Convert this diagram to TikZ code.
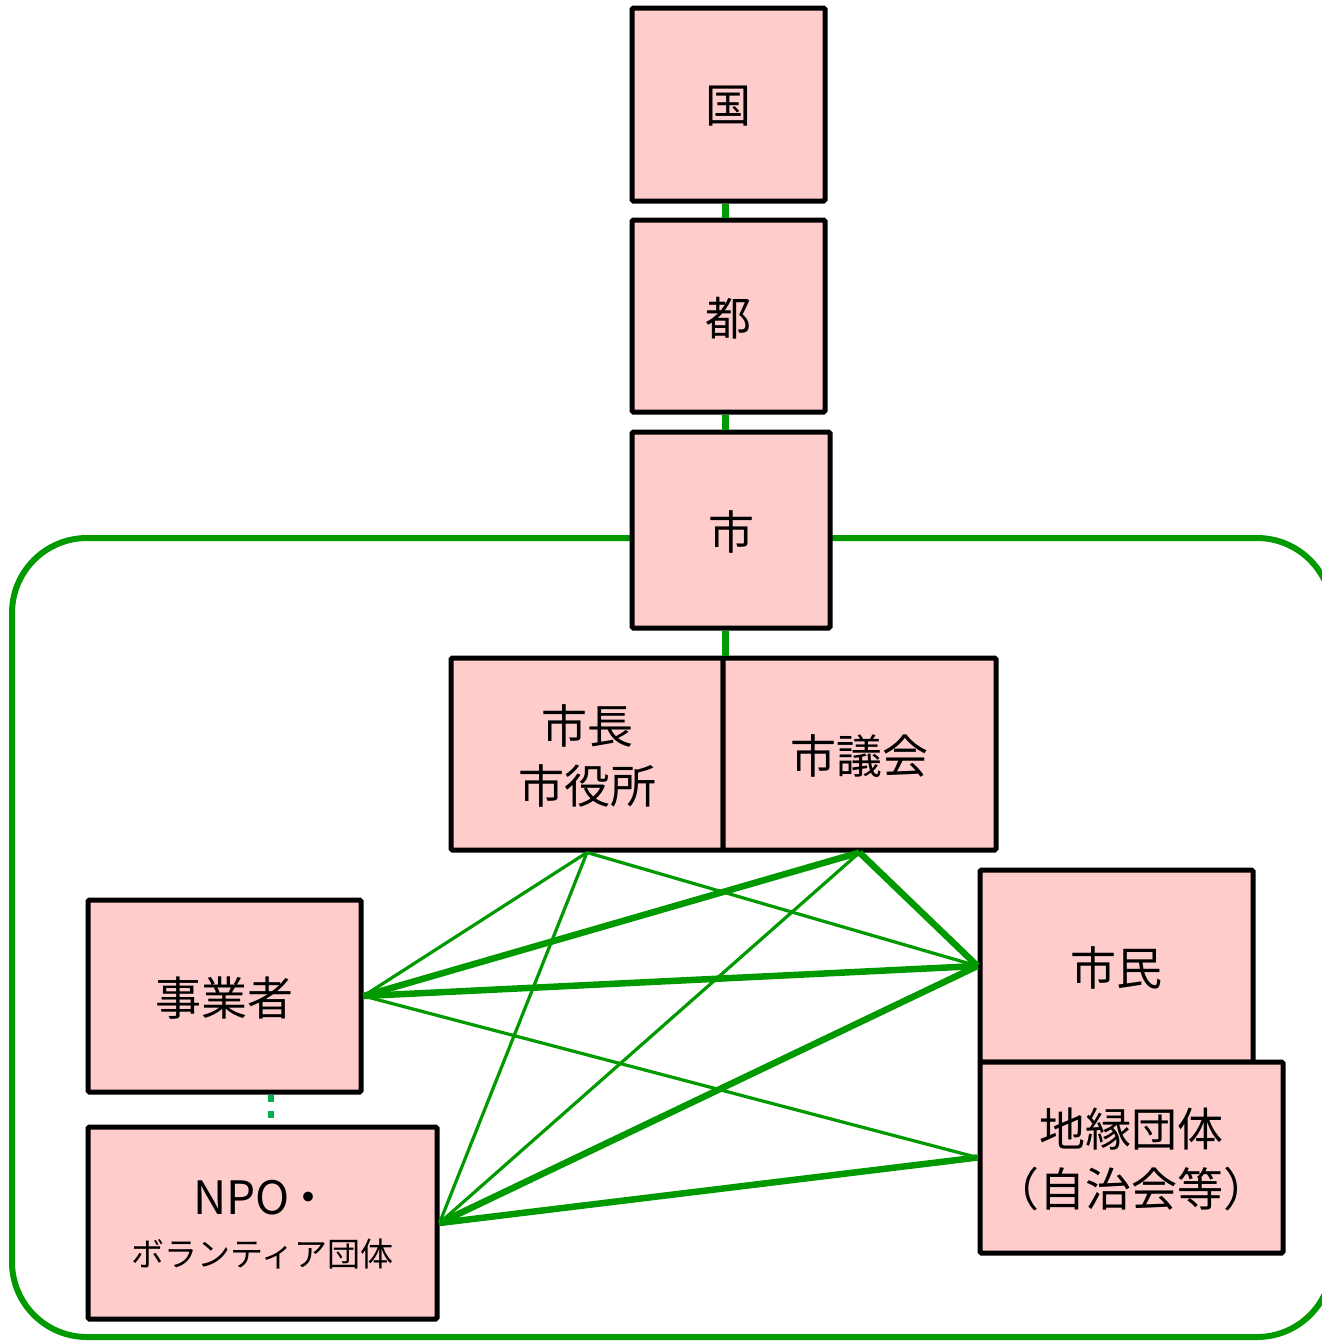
\documentclass[tikz,border=0pt]{standalone}
\usepackage{fontspec}
\setmainfont{Noto Sans CJK JP}
\usetikzlibrary{calc}
\definecolor{linkgreen}{HTML}{009900}
\definecolor{dotgreen}{HTML}{00B050}
\definecolor{boxpink}{HTML}{FFCCCC}
\newcommand{\boxsize}{\fontsize{46}{60}\selectfont}

\tikzset{
	orgbox/.style={draw=black, fill=boxpink, line width=5pt, rounded corners=1.5pt,
		inner sep=0pt, align=center, font=\boxsize, text depth=-6pt},
	thinlink/.style={linkgreen, line width=3.2pt},
	thicklink/.style={linkgreen, line width=6.5pt},
	dotlink/.style={dotgreen, line width=6pt, dash pattern=on 7pt off 9pt}
}

\begin{document}
\begin{tikzpicture}[x=1pt, y=-1pt]
	\useasboundingbox (0,0) rectangle (1322,1341);

	% area of the city
	\draw[linkgreen, line width=6pt, rounded corners=75pt] (12,538) rectangle (1332,1337);

	% boxes: name/x/y/width/height/text
	\foreach \n/\x/\y/\w/\h/\t in {
		kuni/728.5/104.5/193/193/国,
		to/728.5/316/193/192/都,
		shi/731/530/198/196/市,
		shicho/587/754/272/192/市長\\市役所,
		gikai/859.5/754/273/192/市議会,
		jigyo/224.5/996/273/192/事業者,
		shimin/1116.5/966/273/192/市民,
		chien/1131.5/1157.5/303/191/地縁団体\\（自治会等）}
	{
		\node[orgbox, minimum width=\w pt, minimum height=\h pt] (\n) at (\x,\y) {\t};
	}
	\node[orgbox, minimum width=349pt, minimum height=192pt] (npo) at (262.5,1223)
		{NPO\hspace{-4pt}・\\[-8pt]{\fontsize{33}{40}\selectfont ボランティア団体}};

	% vertical links
	\draw[thicklink] (kuni.south -| shicho.east) -- (to.north -| shicho.east);
	\draw[thicklink] (to.south -| shicho.east) -- (shi.north -| shicho.east);
	\draw[thicklink] (shi.south -| shicho.east) -- (shicho.north east);

	% links between the actors
	\foreach \a/\b in {shicho.south/jigyo.east, shicho.south/npo.east, shicho.south/shimin.west,
		gikai.south/npo.east, jigyo.east/chien.west}
	{
		\draw[thinlink] (\a) -- (\b);
	}
	\foreach \a/\b in {gikai.south/jigyo.east, gikai.south/shimin.west, jigyo.east/shimin.west,
		npo.east/shimin.west, npo.east/chien.west}
	{
		\draw[thicklink] (\a) -- (\b);
	}
	\draw[dotlink] ([xshift=46pt]jigyo.south) -- ([xshift=46pt]jigyo.south |- npo.north);

\end{tikzpicture}
\end{document}
